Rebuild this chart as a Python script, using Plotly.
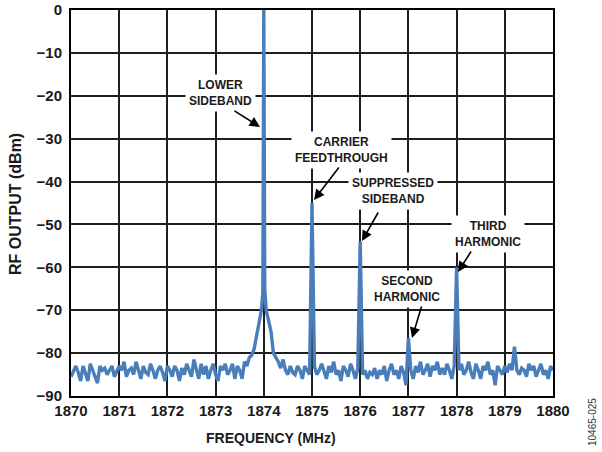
import numpy as np
import plotly.graph_objects as go

# Spectrum trace: 0.05 MHz grid, 1870.00 .. 1880.00 (dBm)
floor_1870 = [-85.5, -84, -83, -84.5, -86.5, -83, -85, -86.5, -82.5, -84, -85, -87, -83, -84, -83.5, -85, -84, -83, -85.5, -84]
floor_1871 = [-83, -84, -82, -85.5, -84, -83.5, -85, -82, -84, -86, -83, -84.5, -85, -82.5, -84, -86, -84, -83, -84.5, -86.5]
floor_1872 = [-83, -84, -85.5, -83, -84, -86.5, -83.5, -85, -82.5, -84, -85.5, -81.5, -84, -86, -82.5, -85, -83, -86, -84, -82.5]
floor_1873 = [-85, -86.5, -83, -84, -82.5, -85, -84, -82.5, -86, -83, -84, -86, -82, -83, -81, -80.5, -79, -76, -73, -70]
floor_1874 = [0, -70, -72.5, -75, -80, -81, -82, -83.5, -81.5, -84, -85, -83, -84.5, -85, -83, -84, -86, -83, -84, -85]
floor_1875 = [-45, -83, -85, -84, -82.5, -84, -86, -83, -84.5, -82, -85, -84, -86.5, -83, -84, -85.5, -82.5, -84, -86, -83.5]
floor_1876 = [-54, -85, -84, -86, -84.5, -85, -83.5, -86, -84, -85, -83, -86.5, -84, -82.5, -85, -84, -86, -83, -84.5, -87.5]
floor_1877 = [-76.5, -84, -86, -83, -84.5, -82, -85, -84, -82.5, -85.5, -83, -84, -82, -85, -83.5, -85, -82.5, -84, -86, -83]
floor_1878 = [-60, -84, -82.5, -85, -84, -82, -84.5, -86, -82.5, -84, -86, -83, -84, -82, -85, -84, -87.5, -83, -84, -85]
floor_1879 = [-83, -84.5, -82.5, -84, -78.5, -84, -85, -83.5, -84, -85.5, -82.5, -84, -83, -85.5, -84, -82.5, -85, -84, -86, -83]
floor_1880 = [-84]

# extra points on the steep skirt of the lower sideband tone
skirt_freq = [1873.98, 1874.02]
skirt_dbm = [-66, -65]

x_ticks = [1870, 1871, 1872, 1873, 1874, 1875, 1876, 1877, 1878, 1879, 1880]
y_ticks = [0, -10, -20, -30, -40, -50, -60, -70, -80, -90]

spectrum = (floor_1870 + floor_1871 + floor_1872 + floor_1873 + floor_1874 + floor_1875
            + floor_1876 + floor_1877 + floor_1878 + floor_1879 + floor_1880)
grid_freq = list(np.round(np.linspace(1870, 1880, len(spectrum)), 3))
pts = sorted(zip(grid_freq + skirt_freq, spectrum + skirt_dbm))
freq = [p[0] for p in pts]
dbm = [p[1] for p in pts]

FONT = "Liberation Sans"
BLUE = "#4a7ebb"

fig = go.Figure()
fig.add_trace(go.Scatter(x=freq, y=dbm, mode="lines",
                         line=dict(color=BLUE, width=3.4), hoverinfo="skip"))

W, H = 602, 452
# plot area in page pixels: x 71..553, y 10..396
L, R, T, B = 71, 553, 10, 396
def px2x(px):
    return 1870 + (px - L) / (R - L) * 10
def py2y(py):
    return -(py - T) / (B - T) * 90

labels = [
    ("LOWER<br>SIDEBAND", 220, 93),
    ("CARRIER<br>FEEDTHROUGH", 341, 150),
    ("SUPPRESSED<br>SIDEBAND", 393, 191),
    ("THIRD<br>HARMONIC", 488, 234),
    ("SECOND<br>HARMONIC", 407, 289),
]
arrows = [  # tail px, tip px
    ((233, 110), (260, 127)),
    ((340, 166), (314, 200)),
    ((379, 211), (362, 241)),
    ((472, 250), (458, 272)),
    ((422, 305), (412, 338)),
]
anns = []
for text, px, py in labels:
    anns.append(dict(x=px2x(px), y=py2y(py), xref="x", yref="y", text=text,
                     showarrow=False, bgcolor="white", borderpad=3,
                     xanchor="center", yanchor="middle",
                     font=dict(family=FONT, size=12, color="#1a1a1a", weight="bold")))
for (tx, ty), (hx, hy) in arrows:
    anns.append(dict(x=px2x(hx), y=py2y(hy), xref="x", yref="y", text="",
                     showarrow=True, arrowhead=2, arrowsize=1.3, arrowwidth=1.6,
                     arrowcolor="black", ax=tx - hx, ay=ty - hy, axref="pixel", ayref="pixel"))
anns.append(dict(x=(271 - L) / (R - L), y=-(438 - B) / (B - T), xref="paper", yref="paper",
                 text="FREQUENCY (MHz)", showarrow=False, xanchor="center", yanchor="middle",
                 font=dict(family=FONT, size=14, color="#1a1a1a", weight="bold")))
anns.append(dict(x=(15 - L) / (R - L), y=(B - 204) / (B - T), xref="paper", yref="paper",
                 text="RF OUTPUT (dBm)", showarrow=False, textangle=-90,
                 xanchor="center", yanchor="middle",
                 font=dict(family=FONT, size=16, color="#1a1a1a", weight="bold")))
anns.append(dict(x=(592 - L) / (R - L), y=(B - 422) / (B - T), xref="paper", yref="paper",
                 text="10465-025", showarrow=False, textangle=-90,
                 xanchor="center", yanchor="middle",
                 font=dict(family=FONT, size=10, color="#333")))

axis_common = dict(showgrid=True, gridcolor="#1e1e1e", gridwidth=1.5, zeroline=False,
                   showline=True, linecolor="black", linewidth=2, mirror=True, automargin=False,
                   ticks="", tickfont=dict(family=FONT, size=15, color="#1a1a1a", weight="bold"))

fig.update_layout(
    width=W, height=H,
    margin=dict(l=L, r=W - R, t=T, b=H - B),
    paper_bgcolor="white", plot_bgcolor="white",
    showlegend=False,
    xaxis=dict(range=[1870, 1880], tickvals=x_ticks, ticktext=[str(v) for v in x_ticks], **axis_common),
    yaxis=dict(range=[-90, 0], tickvals=y_ticks, ticktext=[("\u2212" + str(-v)) if v < 0 else str(v) for v in y_ticks],
               ticklabelstandoff=4, **axis_common),
    annotations=anns,
)
fig.write_html("out.html", config={"displayModeBar": False},
               post_script="document.body.style.margin='0';")
